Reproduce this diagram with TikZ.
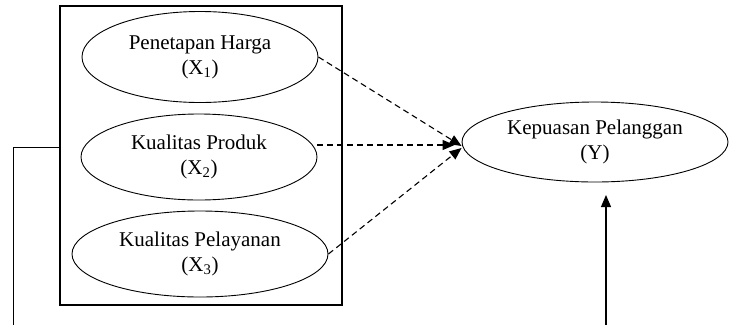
\documentclass[tikz,border=0pt]{standalone}
\usepackage{fontspec}
\setmainfont{Liberation Serif}
\usetikzlibrary{shapes.geometric,arrows.meta}
\tikzset{
    var/.style = {ellipse, draw, inner sep=0pt, align=center, font=\fontsize{21}{25}\selectfont},
    link/.style = {line width=1.1pt, dash pattern=on 6pt off 4pt, -{Triangle[length=12pt,width=10pt]}},
    direct/.style = {line width=1.1pt, -{Triangle[length=12pt,width=10pt]}},
}
\begin{document}
\begin{tikzpicture}[x=1pt,y=-1pt,line width=0.9pt]
    \useasboundingbox (0,0) rectangle (729,325);
    \node (grp) at (201,155.5) [draw, line width=1.2pt, minimum width=282pt, minimum height=299pt] {};
    \node (x1) at (200,57) [var, minimum width=236pt, minimum height=91pt] {Penetapan Harga\\(X\textsubscript{1})};
    \node (x2) at (199,157) [var, minimum width=236pt, minimum height=86pt] {Kualitas Produk\\(X\textsubscript{2})};
    \node (x3) at (200,254) [var, minimum width=256pt, minimum height=86pt] {Kualitas Pelayanan\\(X\textsubscript{3})};
    \node (ky) at (595,142) [var, minimum width=266pt, minimum height=80pt] {Kepuasan Pelanggan\\(Y)};
    \coordinate (t2) at ([xshift=-7pt,yshift=-3pt]ky.west);
    \coordinate (lend) at (13,325);
    \coordinate (yin) at (606,325);
    \draw[link] (x1.east) -- ([yshift=-4pt]ky.west);
    \draw[link] (x2.east |- t2) -- (t2);
    \draw[link] (x3.east) -- ([yshift=-6pt]ky.west);
    \draw (grp.west |- 0,147) -| (lend);
    \draw[direct] (yin) -- (yin |- 0,195);
\end{tikzpicture}
\end{document}
